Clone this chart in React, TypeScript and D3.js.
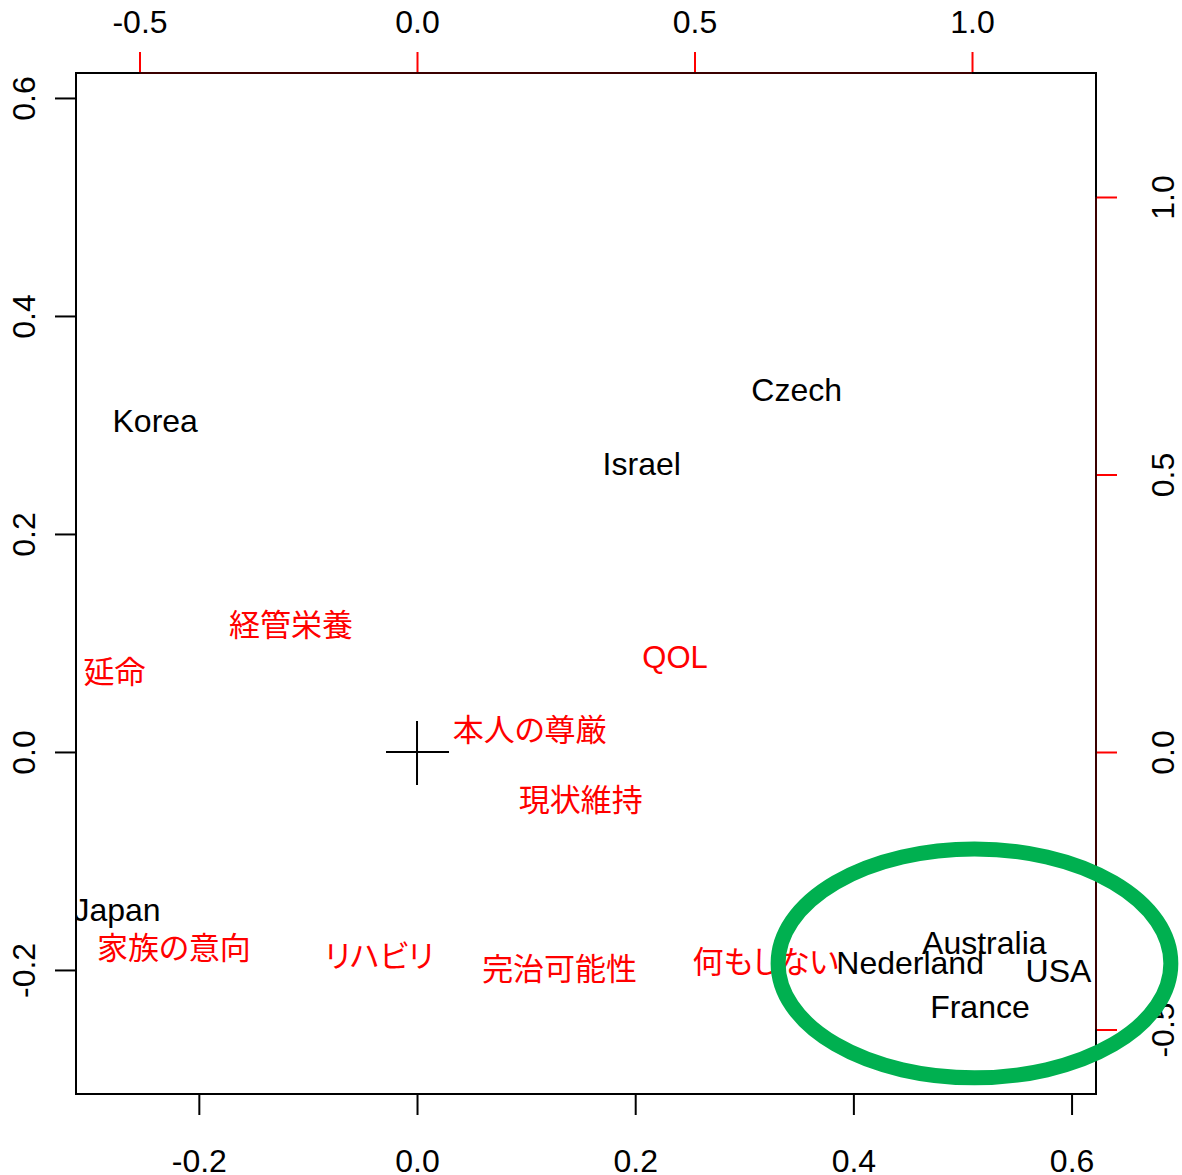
import React, { useEffect, useRef } from 'react';
import * as d3 from 'd3';

// row points (countries), primary axes
const countries = ['Korea', 'Czech', 'Israel', 'Japan', 'Australia', 'Nederland', 'USA', 'France'];
const countryX = [-0.240, 0.348, 0.206, -0.275, 0.520, 0.452, 0.588, 0.516];
const countryY = [0.304, 0.332, 0.264, -0.145, -0.175, -0.193, -0.201, -0.234];

// column points (items), secondary axes
const items = ['経管栄養', '延命', 'QOL', '本人の尊厳', '現状維持', '家族の意向', 'リハビリ', '完治可能性', '何もしない'];
const itemX = [-0.227, -0.545, 0.465, 0.203, 0.295, -0.438, -0.068, 0.257, 0.628];
const itemY = [0.229, 0.144, 0.171, 0.040, -0.086, -0.353, -0.368, -0.391, -0.378];

const primaryTicks = [-0.2, 0.0, 0.2, 0.4, 0.6];
const secondaryTicks = [-0.5, 0.0, 0.5, 1.0];

// highlight ellipse (primary units)
const ellipseCenter = [0.511, -0.194];
const ellipseRadii = [0.180, 0.105];

const W = 1182;
const H = 1175;
const FONT = '"Liberation Sans", Arial, "Noto Sans CJK JP", sans-serif';

const App = () => {
    const ref = useRef(null);

    useEffect(() => {
        const svg = d3.select(ref.current);
        svg.selectAll('*').remove();

        const left = 76, right = 1096, top = 73, bottom = 1094;

        const x = d3.scaleLinear().domain([-0.3126, 0.6224]).range([left, right]);
        const y = d3.scaleLinear().domain([0.6229, -0.3138]).range([top, bottom]);
        const x2 = d3.scaleLinear().domain([-0.6144, 1.2234]).range([left, right]);
        const y2 = d3.scaleLinear().domain([1.2234, -0.6162]).range([top, bottom]);

        svg.append('defs').append('clipPath').attr('id', 'plotclip')
            .append('rect')
            .attr('x', left).attr('y', top)
            .attr('width', right - left).attr('height', bottom - top);

        // R style labels: plain hyphen minus
        const fmt = v => d3.format('.1f')(v).replace('\u2212', '-');

        // bottom axis
        const bottomAxis = svg.append('g')
            .attr('transform', 'translate(0,' + bottom + ')')
            .call(d3.axisBottom(x).tickValues(primaryTicks).tickFormat(fmt).tickSize(21).tickPadding(34));
        // left axis
        const leftAxis = svg.append('g')
            .attr('transform', 'translate(' + left + ',0)')
            .call(d3.axisLeft(y).tickValues(primaryTicks).tickFormat(fmt).tickSize(21).tickPadding(0));
        leftAxis.selectAll('.tick text')
            .attr('transform', 'translate(-52,0) rotate(-90)')
            .attr('text-anchor', 'middle')
            .attr('x', 0).attr('dy', '0.35em');

        // top axis (secondary)
        const topAxis = svg.append('g')
            .attr('transform', 'translate(0,' + top + ')')
            .call(d3.axisTop(x2).tickValues(secondaryTicks).tickFormat(fmt).tickSize(21).tickPadding(19));
        // right axis (secondary)
        const rightAxis = svg.append('g')
            .attr('transform', 'translate(' + right + ',0)')
            .call(d3.axisRight(y2).tickValues(secondaryTicks).tickFormat(fmt).tickSize(21).tickPadding(0));
        rightAxis.selectAll('.tick text')
            .attr('transform', 'translate(67,0) rotate(-90)')
            .attr('text-anchor', 'middle')
            .attr('x', 0).attr('dy', '0.35em');

        [bottomAxis, leftAxis, topAxis, rightAxis].forEach(a => {
            a.select('.domain').remove();
            a.selectAll('text')
                .attr('font-family', FONT)
                .attr('font-size', 32)
                .attr('fill', '#000');
        });
        bottomAxis.selectAll('line').attr('stroke', '#000').attr('stroke-width', 2);
        leftAxis.selectAll('line').attr('stroke', '#000').attr('stroke-width', 2);
        topAxis.selectAll('line').attr('stroke', '#ff0000').attr('stroke-width', 2);
        rightAxis.selectAll('line').attr('stroke', '#ff0000').attr('stroke-width', 2);

        // box
        svg.append('rect')
            .attr('x', left).attr('y', top)
            .attr('width', right - left).attr('height', bottom - top)
            .attr('fill', 'none').attr('stroke', '#000').attr('stroke-width', 2);

        // secondary axis lines over the box
        svg.append('line')
            .attr('x1', x2(-0.5)).attr('x2', x2(1.0))
            .attr('y1', top).attr('y2', top)
            .attr('stroke', '#3a0000').attr('stroke-width', 2);
        svg.append('line')
            .attr('x1', right).attr('x2', right)
            .attr('y1', y2(1.0)).attr('y2', y2(-0.5))
            .attr('stroke', '#3a0000').attr('stroke-width', 2);

        // origin cross
        svg.append('path')
            .attr('d', 'M' + (x(0) - 31) + ',' + y(0) + 'H' + (x(0) + 32)
                + 'M' + x(0) + ',' + (y(0) - 31) + 'V' + (y(0) + 33))
            .attr('stroke', '#000').attr('stroke-width', 2).attr('fill', 'none');

        const labels = svg.append('g').attr('clip-path', 'url(#plotclip)');

        labels.selectAll('.country')
            .data(countries)
            .enter().append('text')
            .attr('class', 'country')
            .attr('x', (d, i) => x(countryX[i]))
            .attr('y', (d, i) => y(countryY[i]))
            .attr('dy', '0.35em')
            .attr('text-anchor', 'middle')
            .attr('font-family', FONT)
            .attr('font-size', 32)
            .attr('fill', '#000')
            .text(d => d);

        labels.selectAll('.item')
            .data(items)
            .enter().append('text')
            .attr('class', 'item')
            .attr('x', (d, i) => x2(itemX[i]))
            .attr('y', (d, i) => y2(itemY[i]))
            .attr('dy', '0.35em')
            .attr('text-anchor', 'middle')
            .attr('font-family', FONT)
            .attr('font-size', 31)
            .style('font-feature-settings', '"palt"')
            .attr('fill', '#ff0000')
            .text(d => d);

        // green highlight ellipse
        svg.append('ellipse')
            .attr('cx', x(ellipseCenter[0]))
            .attr('cy', y(ellipseCenter[1]))
            .attr('rx', x(ellipseRadii[0]) - x(0))
            .attr('ry', y(0) - y(ellipseRadii[1]))
            .attr('fill', 'none')
            .attr('stroke', '#00b050')
            .attr('stroke-width', 15);
    }, []);

    return (
        <svg ref={ref} width={W} height={H}
            style={{ position: 'absolute', left: 0, top: 0, background: '#fff' }} />
    );
};

export default App;
